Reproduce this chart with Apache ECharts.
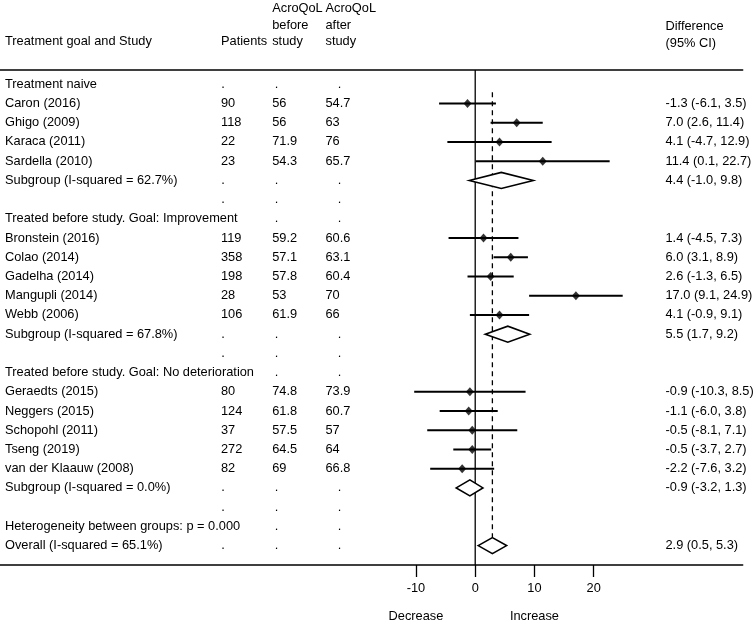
<!DOCTYPE html>
<html>
<head>
<meta charset="utf-8">
<script src="https://cdn.jsdelivr.net/npm/echarts@6/dist/echarts.min.js"></script>
<style>
html,body{margin:0;padding:0;background:#fff;}
#c{width:755px;height:624px;}
</style>
</head>
<body>
<div id="c"></div>
<script>
// ---------------- DATA ----------------
const rowLabels = [
  'Treatment naive',
  'Caron (2016)', 'Ghigo (2009)', 'Karaca (2011)', 'Sardella (2010)',
  'Subgroup (I-squared = 62.7%)',
  '',
  'Treated before study. Goal: Improvement',
  'Bronstein (2016)', 'Colao (2014)', 'Gadelha (2014)', 'Mangupli (2014)', 'Webb (2006)',
  'Subgroup (I-squared = 67.8%)',
  '',
  'Treated before study. Goal: No deterioration',
  'Geraedts (2015)', 'Neggers (2015)', 'Schopohl (2011)', 'Tseng (2019)', 'van der Klaauw (2008)',
  'Subgroup (I-squared = 0.0%)',
  '',
  'Heterogeneity between groups: p = 0.000',
  'Overall (I-squared = 65.1%)'
];
const patients = ['.', '90', '118', '22', '23', '.', '.', '', '119', '358', '198', '28', '106', '.', '.', '',
  '80', '124', '37', '272', '82', '.', '.', '', '.'];
const acroBefore = ['.', '56', '56', '71.9', '54.3', '.', '.', '.', '59.2', '57.1', '57.8', '53', '61.9', '.', '.', '.',
  '74.8', '61.8', '57.5', '64.5', '69', '.', '.', '.', '.'];
const acroAfter = ['.', '54.7', '63', '76', '65.7', '.', '.', '.', '60.6', '63.1', '60.4', '70', '66', '.', '.', '.',
  '73.9', '60.7', '57', '64', '66.8', '.', '.', '.', '.'];

const studyRows = [1, 2, 3, 4, 8, 9, 10, 11, 12, 16, 17, 18, 19, 20];
const studyEst  = [-1.3, 7.0, 4.1, 11.4, 1.4, 6.0, 2.6, 17.0, 4.1, -0.9, -1.1, -0.5, -0.5, -2.2];
const studyLo   = [-6.1, 2.6, -4.7, 0.1, -4.5, 3.1, -1.3, 9.1, -0.9, -10.3, -6.0, -8.1, -3.7, -7.6];
const studyHi   = [3.5, 11.4, 12.9, 22.7, 7.3, 8.9, 6.5, 24.9, 9.1, 8.5, 3.8, 7.1, 2.7, 3.2];

const pooledRows = [5, 13, 21, 24];
const pooledEst  = [4.4, 5.5, -0.9, 2.9];
const pooledLo   = [-1.0, 1.7, -3.2, 0.5];
const pooledHi   = [9.8, 9.2, 1.3, 5.3];

const overallIndex = 3;           // index into pooled arrays for the overall estimate
const nullValue = 0;              // line of no effect
const xTicks = [-10, 0, 10, 20];
const directionLabels = ['Decrease', 'Increase'];
const directionAt = [-10, 10];

// ---------------- LAYOUT ----------------
const FONT = '"Liberation Sans", Arial, Helvetica, sans-serif';
const FS = 12.8;
const X_MIN = -80.23, X_MAX = 45.16;
const Y_MIN = -0.744, Y_MAX = 25.01;
const COL_STUDY = 5, COL_PAT = 221, COL_BEF = 272.2, COL_AFT = 325.5, COL_DIFF = 665.5;
const DOT_PAT = 221.3, DOT_BEF = 274.8, DOT_AFT = 337.8;

function fmt(v) { return v.toFixed(1); }

// ---------------- BUILD SERIES DATA ----------------
const textRows = rowLabels.map((lab, i) => [0, i]);
const diffText = new Array(rowLabels.length).fill('');
studyRows.forEach((r, k) => { diffText[r] = fmt(studyEst[k]) + ' (' + fmt(studyLo[k]) + ', ' + fmt(studyHi[k]) + ')'; });
pooledRows.forEach((r, k) => { diffText[r] = fmt(pooledEst[k]) + ' (' + fmt(pooledLo[k]) + ', ' + fmt(pooledHi[k]) + ')'; });

const ciData = studyRows.map((r, k) => [studyLo[k], studyHi[k], r]);
const pointData = studyRows.map((r, k) => [studyEst[k], r]);
const diamondData = pooledRows.map((r, k) => [pooledEst[k], r, pooledLo[k], pooledHi[k]]);

const chart = echarts.init(document.getElementById('c'), null, { renderer: 'canvas' });

function txt(x, y, s, align) {
  return {
    type: 'text',
    style: { x: x, y: y, text: s, fill: '#000', font: FS + 'px ' + FONT, textAlign: align || 'left', textVerticalAlign: 'middle' }
  };
}

const option = {
  animation: false,
  backgroundColor: '#fff',
  grid: { left: 0, right: 12.3, top: 70, bottom: 59, outerBoundsMode: 'none', containLabel: false },
  xAxis: [
    {
      type: 'value', min: X_MIN, max: X_MAX, position: 'bottom',
      axisLine: { show: true, onZero: false, lineStyle: { color: '#000', width: 1.5 } },
      axisTick: { show: true, customValues: xTicks, length: 12, lineStyle: { color: '#000', width: 1.3 } },
      axisLabel: { show: true, customValues: xTicks, margin: 17, color: '#000', fontSize: FS, fontFamily: FONT },
      splitLine: { show: false }
    },
    {
      type: 'value', min: X_MIN, max: X_MAX, position: 'top',
      axisLine: { show: true, onZero: false, lineStyle: { color: '#000', width: 1.5 } },
      axisTick: { show: false }, axisLabel: { show: false }, splitLine: { show: false }
    }
  ],
  yAxis: { type: 'value', inverse: true, min: Y_MIN, max: Y_MAX, show: false },
  graphic: [
    txt(COL_STUDY, 41.5, 'Treatment goal and Study'),
    txt(COL_PAT, 41.5, 'Patients'),
    txt(COL_BEF, 8.5, 'AcroQoL'),
    txt(COL_BEF, 25, 'before'),
    txt(COL_BEF, 41.5, 'study'),
    txt(COL_AFT, 8.5, 'AcroQoL'),
    txt(COL_AFT, 25, 'after'),
    txt(COL_AFT, 41.5, 'study'),
    txt(COL_DIFF, 26.5, 'Difference'),
    txt(COL_DIFF, 43, '(95% CI)')
  ],
  series: [
    // line of no effect
    {
      type: 'custom', data: [[nullValue]], clip: false, z: 2,
      renderItem: function (params, api) {
        const a = api.coord([api.value(0), Y_MIN]);
        const b = api.coord([api.value(0), Y_MAX]);
        return { type: 'line', shape: { x1: a[0], y1: a[1], x2: b[0], y2: b[1] }, style: { stroke: '#000', lineWidth: 1.3 } };
      }
    },
    // overall estimate dashed line
    {
      type: 'custom', data: [[pooledEst[overallIndex], pooledRows[overallIndex]]], clip: false, z: 2,
      renderItem: function (params, api) {
        const a = api.coord([api.value(0), 0.42]);
        const b = api.coord([api.value(0), api.value(1)]);
        return { type: 'line', shape: { x1: a[0], y1: a[1], x2: b[0], y2: b[1] - 8 },
          style: { stroke: '#000', lineWidth: 1.3, lineDash: [5, 4] } };
      }
    },
    // confidence intervals
    {
      type: 'custom', data: ciData, clip: false, z: 3,
      renderItem: function (params, api) {
        const a = api.coord([api.value(0), api.value(2)]);
        const b = api.coord([api.value(1), api.value(2)]);
        return { type: 'line', shape: { x1: a[0], y1: a[1], x2: b[0], y2: b[1] }, style: { stroke: '#000', lineWidth: 2 } };
      }
    },
    // point estimates
    {
      type: 'scatter', data: pointData, symbol: 'diamond', symbolSize: [8, 9], z: 4,
      itemStyle: { color: '#000' }, silent: true
    },
    // pooled diamonds
    {
      type: 'custom', data: diamondData, clip: false, z: 5,
      renderItem: function (params, api) {
        const c = api.coord([api.value(0), api.value(1)]);
        const l = api.coord([api.value(2), api.value(1)]);
        const r = api.coord([api.value(3), api.value(1)]);
        return { type: 'polygon', shape: { points: [[l[0], c[1]], [c[0], c[1] - 8], [r[0], c[1]], [c[0], c[1] + 8]] },
          style: { fill: '#fff', stroke: '#000', lineWidth: 1.6 } };
      }
    },
    // text columns
    {
      type: 'custom', data: textRows, clip: false, z: 6, silent: true,
      renderItem: function (params, api) {
        const i = params.dataIndex;
        const y = api.coord([0, api.value(1)])[1];
        const kids = [];
        if (rowLabels[i]) kids.push(txt(COL_STUDY, y, rowLabels[i]));
        if (patients[i]) kids.push(txt(patients[i] === '.' ? DOT_PAT : COL_PAT, y, patients[i]));
        if (acroBefore[i]) kids.push(txt(acroBefore[i] === '.' ? DOT_BEF : COL_BEF, y, acroBefore[i]));
        if (acroAfter[i]) kids.push(txt(acroAfter[i] === '.' ? DOT_AFT : COL_AFT, y, acroAfter[i]));
        if (diffText[i]) kids.push(txt(COL_DIFF, y, diffText[i]));
        return { type: 'group', children: kids };
      }
    },
    // direction labels under the axis
    {
      type: 'custom', data: directionAt.map((v, k) => [v, k]), clip: false, z: 6, silent: true,
      renderItem: function (params, api) {
        const p = api.coord([api.value(0), Y_MAX]);
        return txt(p[0], p[1] + 51, directionLabels[params.dataIndex], 'center');
      }
    }
  ]
};
chart.setOption(option);
</script>
</body>
</html>
